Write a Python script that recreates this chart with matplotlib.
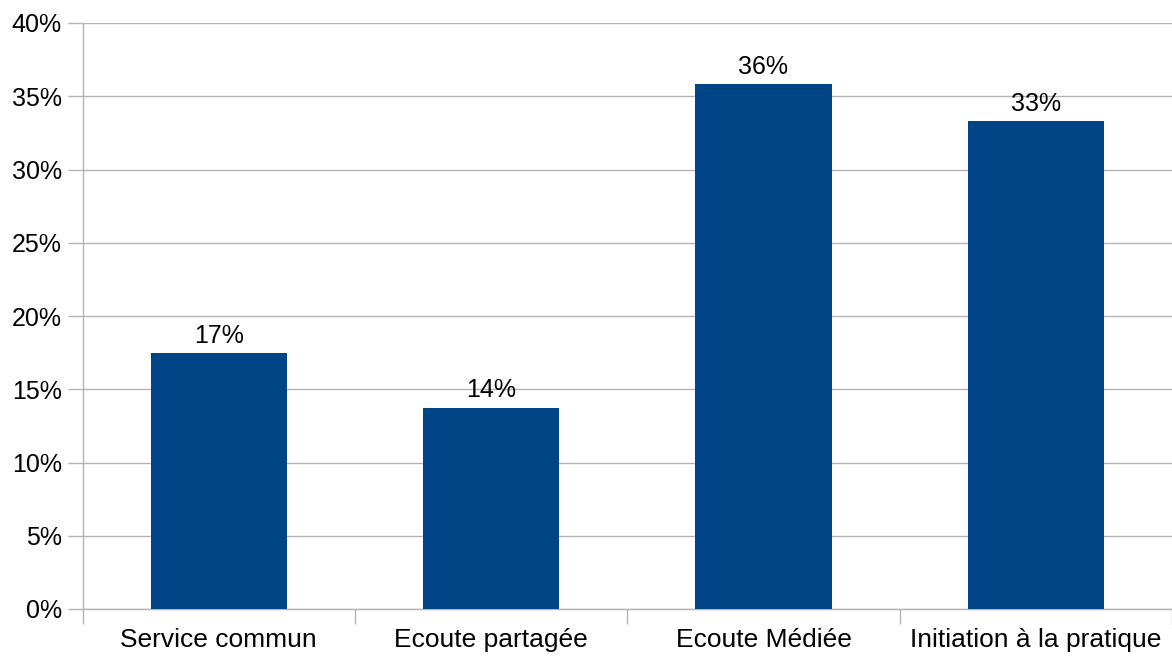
import numpy as np
import matplotlib.pyplot as plt
from matplotlib.ticker import FixedLocator, PercentFormatter

categories = ['Service commun', 'Ecoute partagée', 'Ecoute Médiée', 'Initiation à la pratique']
values = [17.47, 13.75, 35.83, 33.3]
labels = ['17%', '14%', '36%', '33%']

plt.rcParams['font.family'] = ['Liberation Sans', 'DejaVu Sans']

fig = plt.figure(figsize=(11.72, 6.59), dpi=100)
ax = fig.add_axes([82.5 / 1172, 1 - 609 / 659, 1 - 82.5 / 1172, (609 - 23) / 659])

x = np.arange(len(categories))
bars = ax.bar(x, values, width=0.5, color='#004586', zorder=3)

for b, lab in zip(bars, labels):
    ax.annotate(lab, (b.get_x() + b.get_width() / 2, b.get_height()),
                xytext=(0, 4), textcoords='offset points',
                ha='center', va='bottom', fontsize=18, color='black')

ax.set_xlim(-0.5, len(categories) - 0.5)
ax.set_ylim(0, 40)
ax.set_yticks(np.arange(0, 41, 5))
ax.yaxis.set_major_formatter(PercentFormatter(decimals=0))
ax.grid(axis='y', color='#b3b3b3', linewidth=1, zorder=0)

# category labels centred, ticks on the boundaries
ax.set_xticks(x)
ax.set_xticklabels(categories)
ax.xaxis.set_minor_locator(FixedLocator(np.arange(-0.5, len(categories), 1)))
ax.tick_params(axis='x', which='major', length=0, pad=14, labelsize=19)
ax.tick_params(axis='x', which='minor', length=11, color='#b3b3b3', width=1)
ax.tick_params(axis='y', length=11, color='#b3b3b3', width=1, pad=4, labelsize=18)

for s in ['top', 'right']:
    ax.spines[s].set_visible(False)
for s in ['left', 'bottom']:
    ax.spines[s].set_color('#b3b3b3')
    ax.spines[s].set_linewidth(1)

fig.savefig('out.png', dpi=100)
